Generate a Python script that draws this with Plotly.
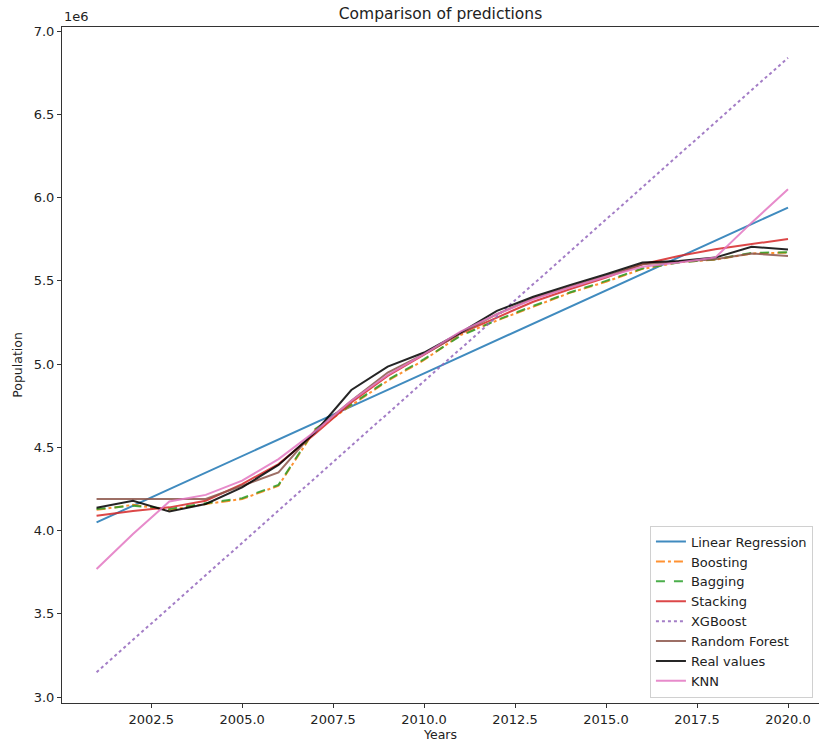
import plotly.graph_objects as go

# Years covered by the predictions
years = list(range(2001, 2021))

# Population predictions per model (persons)
linear_regression = [4050000, 4150000, 4249000, 4348000, 4448000, 4547000, 4647000, 4746000, 4846000, 4945000,
                     5045000, 5144000, 5244000, 5343000, 5443000, 5542000, 5642000, 5741000, 5841000, 5940000]
boosting = [4125000, 4155000, 4125000, 4160000, 4190000, 4270000, 4605000, 4755000, 4900000, 5025000,
            5175000, 5262000, 5345000, 5428000, 5495000, 5572000, 5612000, 5628000, 5665000, 5670000]
bagging = [4130000, 4150000, 4130000, 4165000, 4195000, 4275000, 4610000, 4760000, 4905000, 5030000,
           5170000, 5265000, 5350000, 5430000, 5500000, 5575000, 5610000, 5630000, 5668000, 5672000]
stacking = [4090000, 4118000, 4140000, 4180000, 4280000, 4400000, 4580000, 4770000, 4930000, 5055000,
            5185000, 5280000, 5375000, 5450000, 5520000, 5600000, 5650000, 5690000, 5722000, 5752000]
xgboost = [3150000, 3344000, 3538000, 3733000, 3927000, 4121000, 4315000, 4509000, 4704000, 4898000,
           5092000, 5286000, 5480000, 5675000, 5869000, 6063000, 6257000, 6451000, 6646000, 6840000]
random_forest = [4190000, 4190000, 4190000, 4190000, 4270000, 4350000, 4600000, 4780000, 4950000, 5060000,
                 5185000, 5300000, 5395000, 5465000, 5530000, 5600000, 5615000, 5630000, 5665000, 5650000]
real_values = [4138000, 4180000, 4115000, 4160000, 4260000, 4395000, 4590000, 4845000, 4985000, 5070000,
               5190000, 5320000, 5405000, 5475000, 5540000, 5610000, 5620000, 5640000, 5705000, 5688000]
knn = [3770000, 3980000, 4175000, 4215000, 4300000, 4430000, 4595000, 4780000, 4935000, 5060000,
       5195000, 5300000, 5390000, 5460000, 5525000, 5585000, 5610000, 5640000, 5850000, 6050000]

# Axis ticks
x_ticks = [2002.5, 2005.0, 2007.5, 2010.0, 2012.5, 2015.0, 2017.5, 2020.0]
y_ticks = [3.0e6, 3.5e6, 4.0e6, 4.5e6, 5.0e6, 5.5e6, 6.0e6, 6.5e6, 7.0e6]

series = [
    ("Linear Regression", linear_regression, "#1f77b4", "solid"),
    ("Boosting", boosting, "#ff7f0e", "dashdot"),
    ("Bagging", bagging, "#2ca02c", "dash"),
    ("Stacking", stacking, "#d62728", "solid"),
    ("XGBoost", xgboost, "#9467bd", "dot"),
    ("Random Forest", random_forest, "#8c564b", "solid"),
    ("Real values", real_values, "#000000", "solid"),
    ("KNN", knn, "#e377c2", "solid"),
]

fig = go.Figure()
for name, values, color, dash in series:
    fig.add_trace(go.Scatter(
        x=years, y=values, mode="lines", name=name,
        line=dict(color=color, width=2, dash=dash),
        opacity=0.85,
    ))

font_family = "DejaVu Sans"
text_color = "#222222"

fig.update_layout(
    width=819, height=745,
    margin=dict(l=62, r=0, t=27, b=42),
    paper_bgcolor="white", plot_bgcolor="white",
    font=dict(family=font_family, size=13, color=text_color),
    title=dict(text="Comparison of predictions", x=0.5, xref="paper",
               y=1 - 14 / 745, yref="container", xanchor="center", yanchor="middle",
               font=dict(size=15.5, color=text_color)),
    showlegend=True,
    legend=dict(
        x=0.992, y=0.008, xanchor="right", yanchor="bottom",
        bgcolor="rgba(255,255,255,0.85)", bordercolor="#d0d0d0", borderwidth=1,
        font=dict(size=13, color=text_color), tracegroupgap=0,
    ),
)

fig.update_xaxes(
    range=[2000.05, 2020.852], tickvals=x_ticks,
    ticktext=[f"{t:.1f}" for t in x_ticks],
    showgrid=False, zeroline=False,
    showline=True, linecolor="#333333", linewidth=1, mirror=True,
    ticks="outside", ticklen=4, tickcolor="#333333",
    title=dict(text="Years", font=dict(size=12.5), standoff=4),
)
fig.update_yaxes(
    range=[2.965e6, 7.025e6], tickvals=y_ticks,
    ticktext=[f"{t / 1e6:.1f}" for t in y_ticks],
    showgrid=False, zeroline=False,
    showline=True, linecolor="#333333", linewidth=1, mirror=True,
    ticks="outside", ticklen=4, tickcolor="#333333",
    title=dict(text="Population", font=dict(size=12.5), standoff=8),
)

# Offset multiplier shown above the y axis
fig.add_annotation(text="1e6", xref="paper", yref="paper", x=0, y=1,
                   xanchor="left", yanchor="bottom", yshift=1, showarrow=False,
                   font=dict(size=13, color=text_color))

fig.write_html("out.html")
